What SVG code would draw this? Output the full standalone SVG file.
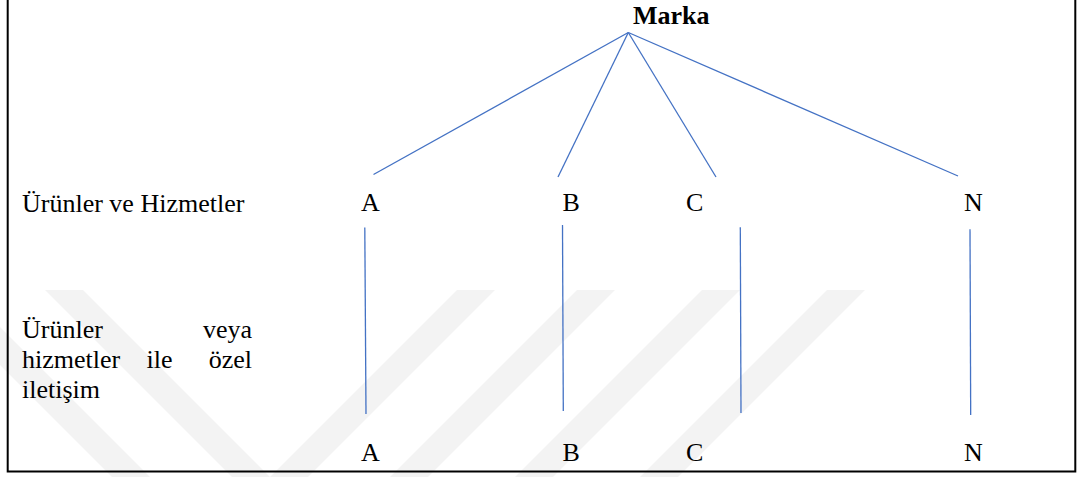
<svg xmlns="http://www.w3.org/2000/svg" width="1081" height="477" viewBox="0 0 1081 477">
  <style>
    .txt { font-family: "Liberation Serif", "Times New Roman", "DejaVu Serif", serif; font-size: 26px; fill: #000; }
    .bold { font-weight: bold; }
    .link { stroke: #4472C4; stroke-width: 1.3; fill: none; }
    .band { fill: #f3f3f3; }
  </style>

  <rect width="1081" height="477" fill="#fff"/>

  <!-- faint diagonal background bands -->
  <g id="backdrop">
    <polygon class="band" points="-75,290 -37,290 150,477 112,477"/>
    <polygon class="band" points="45,290 83,290 270,477 232,477"/>
    <polygon class="band" points="270,477 308,477 495,290 457,290"/>
    <polygon class="band" points="390,477 428,477 615,290 577,290"/>
    <polygon class="band" points="515,477 553,477 740,290 702,290"/>
    <polygon class="band" points="640,477 678,477 865,290 827,290"/>
  </g>

  <!-- frame (open at the top) -->
  <path d="M7.7,0 V471.5 H1075.3 V0" fill="none" stroke="#000" stroke-width="2"/>

  <g id="connectors">
    <line class="link" x1="628.3" y1="32.5" x2="373.5" y2="174.5"/>
    <line class="link" x1="628.3" y1="32.5" x2="558" y2="177"/>
    <line class="link" x1="628.3" y1="32.5" x2="716" y2="177"/>
    <line class="link" x1="628.3" y1="32.5" x2="958" y2="176"/>
    <line class="link" x1="364.8" y1="227.5" x2="366" y2="414"/>
    <line class="link" x1="562.5" y1="225" x2="563.3" y2="411"/>
    <line class="link" x1="740.3" y1="227.3" x2="741" y2="413"/>
    <line class="link" x1="970" y1="229.3" x2="970.7" y2="415"/>
  </g>

  <g id="root">
    <text class="txt bold" x="633" y="23.5">Marka</text>
  </g>

  <g id="row-label-1">
    <text class="txt" x="22" y="211.5">Ürünler ve Hizmetler</text>
  </g>
  <g id="row-label-2">
    <text class="txt" x="22" y="337.5">Ürünler</text>
    <text class="txt" x="252" y="337.5" text-anchor="end">veya</text>
    <text class="txt" x="22" y="367.5">hizmetler</text>
    <text class="txt" x="146.5" y="367.5">ile</text>
    <text class="txt" x="252" y="367.5" text-anchor="end">özel</text>
    <text class="txt" x="22" y="397.5">iletişim</text>
  </g>

  <g id="node-a1"><text class="txt" x="361" y="211">A</text></g>
  <g id="node-b1"><text class="txt" x="562.5" y="211">B</text></g>
  <g id="node-c1"><text class="txt" x="686" y="211">C</text></g>
  <g id="node-n1"><text class="txt" x="964" y="211">N</text></g>

  <g id="node-a2"><text class="txt" x="361" y="461">A</text></g>
  <g id="node-b2"><text class="txt" x="562.5" y="461">B</text></g>
  <g id="node-c2"><text class="txt" x="686" y="461">C</text></g>
  <g id="node-n2"><text class="txt" x="964" y="461">N</text></g>
</svg>
